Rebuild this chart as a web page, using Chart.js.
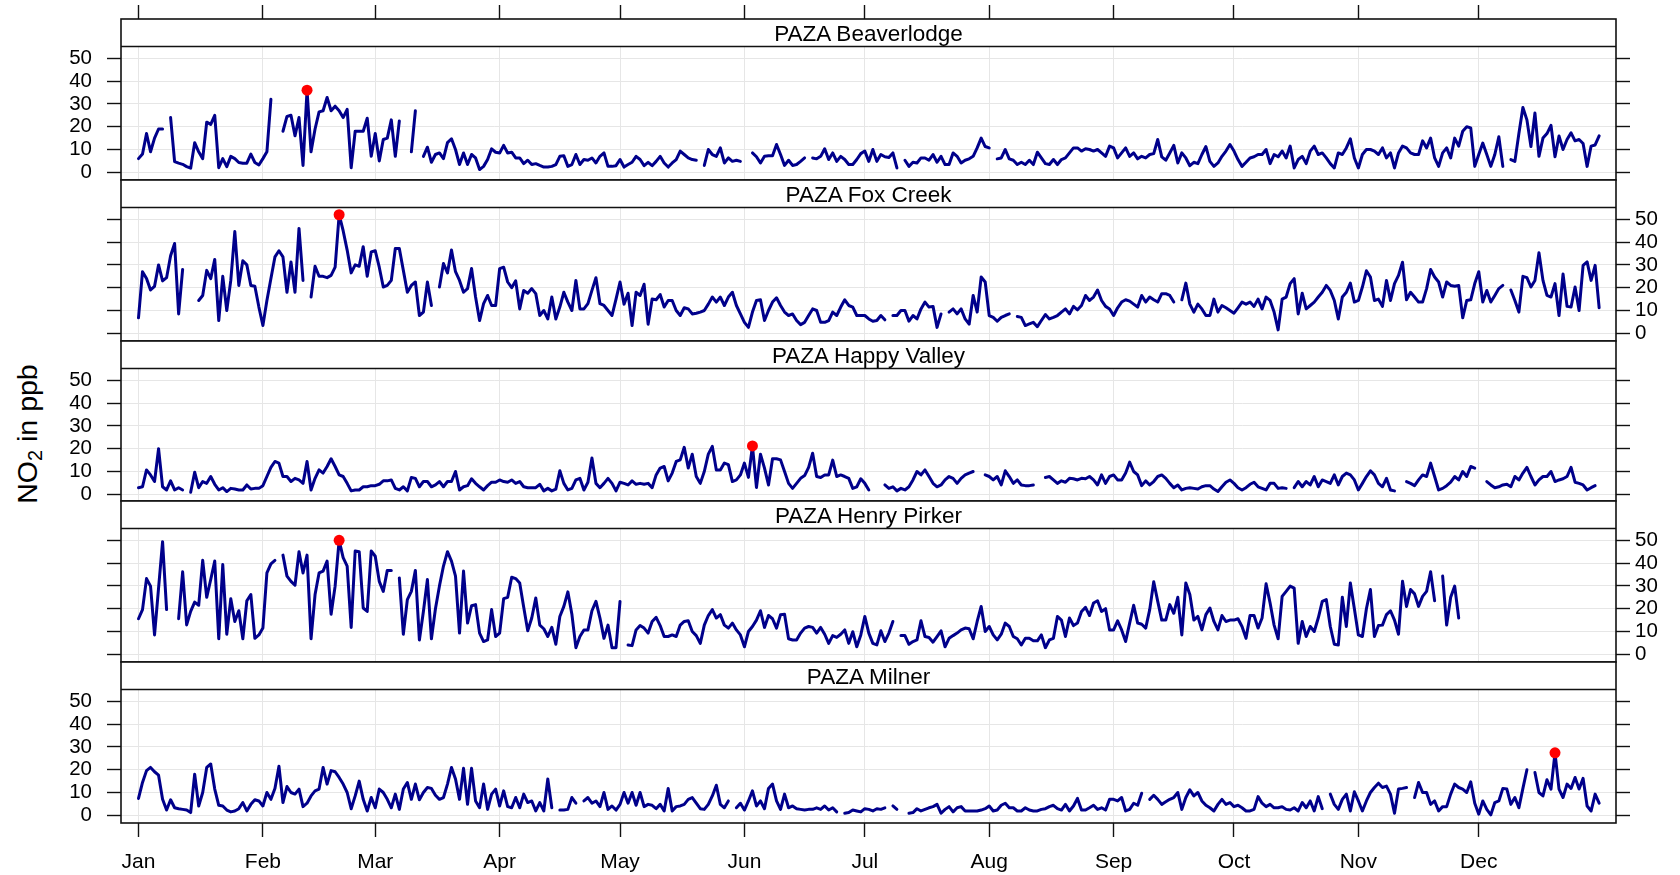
<!DOCTYPE html>
<html><head><meta charset="utf-8">
<script src="https://cdn.jsdelivr.net/npm/chart.js@4.4.1/dist/chart.umd.min.js"></script>
<style>
html,body{margin:0;padding:0;background:#fff;}
#wrap{position:relative;width:1680px;height:875px;overflow:hidden;font-family:"Liberation Sans",Arial,sans-serif;background:#fff;}
#wrap canvas{position:absolute;left:0;}
.strip{position:absolute;left:121px;width:1495px;height:27px;line-height:27px;text-align:center;font-size:22.5px;color:#000;z-index:5;}
#ytitle{position:absolute;left:-123px;top:417px;width:300px;height:34px;line-height:34px;text-align:center;font-size:28.5px;color:#000;transform:rotate(-90deg);white-space:nowrap;}
#ytitle sub{font-size:70%;vertical-align:-0.25em;line-height:0;}
</style></head>
<body><div id="wrap"><div id="ytitle">NO<sub>2</sub> in ppb</div></div>
<script>
// ---- data (daily means, day 0 = Jan 1) ----
const stations = ['PAZA Beaverlodge','PAZA Fox Creek','PAZA Happy Valley','PAZA Henry Pirker','PAZA Milner'];
const monthStarts = [0,31,59,90,120,151,181,212,243,273,304,334];
const monthLabels = ['Jan','Feb','Mar','Apr','May','Jun','Jul','Aug','Sep','Oct','Nov','Dec'];
const yTickValues = [0,10,20,30,40,50];

const beaverlodge = [6,8,17,9,15,19,19,null,24,4.7,
4,3.5,2.5,1.8,13,9,6,22,21,25,
2,6,2.5,7,6,4.3,4,4,8,4.3,
3.2,6,9,32,null,null,18,24.5,25,16,
24,3,36,9,19,26.5,27,32.8,27,29,
27,24,27.6,2,18,18,18,23.7,7,17,
5,14.4,15,23,7,22.5,null,null,9,27,
null,7,11,4.4,7.8,8.5,6,13,14.7,10,
3.4,8.5,3.4,7.8,6.3,1.2,2.6,5.6,10.3,8.8,
8.5,11.8,8.5,8.8,6.3,6.3,3.8,5.3,3.4,3.8,
3,2.3,2.3,2.6,3.4,7,7.3,2.6,3.4,7.8,
3.4,5.6,5.3,6.3,4.1,7,8.5,2.6,2.6,2.9,
5.6,2.3,3.4,4.4,7,5.6,2.9,4.4,2.9,4.8,
7,4.1,2.3,4.1,5.6,9.3,7.8,6.3,5.6,5.3,
null,3,10,7.8,7,10.7,4.1,6.3,4.8,5.3,
4.8,null,null,8.5,6.8,4.1,7,7.3,7.3,12.2,
7.8,3,5.3,3,3.4,4.8,6.3,null,6.3,5.9,
7,10.3,5.6,8.5,4.8,7,5.6,3.4,3.4,5.6,
8.2,9.3,4.8,10,4.8,7.8,6.8,6.5,8.5,1.9,
null,5.3,2.6,4.4,4.1,6.3,6.3,5.3,7.8,4.4,
7,3.4,3.4,8.5,7,4.1,5.3,5.9,7,10.7,
15,11.3,10.7,null,5.9,6.3,10,5.9,5.3,3.4,
4.4,3.4,5.3,3.4,8.8,6.3,3.8,3.4,5.6,3.4,
5.6,6.3,8.5,10.7,10.7,9.3,10.3,10,9.3,10,
8.5,7,11.5,10.7,6.3,8.5,10.7,7,8.5,5.9,
7,6.3,7.8,8.2,14.4,6.8,5.3,8.5,11.8,4.1,
8.5,6.3,2.9,4.4,3.8,7.8,11.3,4.8,2.6,4.1,
7,9.3,12.2,9.3,5.6,2.6,4.4,6.3,6.8,7.8,
7.8,10,3.8,7.8,6.8,9.3,6.3,11.5,1.9,5.6,
7,3.8,9.3,11.5,7.8,8.5,6.3,3.8,1.9,8.5,
7.8,10.7,14.7,6.3,1.9,7.8,10,10,9.3,7.8,
10.7,6.3,8.5,1.9,8.5,11.5,10.7,8.5,7.8,7.8,
13.8,10.7,15,6.3,2.6,8.5,10.7,6.3,15,11.5,
18,20,19.5,2.6,7.8,12.8,7.8,2.6,7.8,15.6,
2.6,null,5.6,4.8,17,28.4,23,11.3,26,7,
15,17,20.6,6.8,15.9,10,14.4,17.3,13.8,14.4,
12.6,2.6,11.5,12,16];

const foxCreek = [6.8,27,24,19,20.6,30,23,24.4,34,39.4,
8.5,28,null,null,null,14.4,16.6,27.6,24,32.4,
5.6,25,10,23.2,44.6,21,31.8,30,21,20.6,
11.5,3.4,14.4,24,33.5,36.2,33.5,18,31.3,18,
46,23.2,null,15.9,29.4,25,25,24.4,25.4,29,
52,45,36.5,26.5,30,29.4,38,25,35.7,36.2,
29,20.3,21,23.2,37.2,37.2,27.6,18,21,22.5,
7.8,9.3,22.5,12.2,null,20.3,30.6,26.5,36.5,27,
23.2,18,19.6,28.4,15.9,5.6,13,16.6,12.2,12.2,
28.4,29,22.5,20,23,10.7,18.8,17.6,19.6,17.4,
7.8,10,6.3,15.9,6.3,11.5,18,13.7,10,23.2,
10.7,10.7,13,18.8,24.4,13,12.2,10,7.8,15,
22.5,12.8,17.6,3.4,18,16.6,21.5,4,15,14.7,
17,11.5,14.4,14.4,10,7.8,11.2,10.7,8.5,8.8,
9.3,10,12.8,15.9,13.7,15.9,12.2,15.9,18,12.2,
8.5,4.8,2.6,9.3,14.4,14.7,5.6,10,13.7,15.6,
12.2,9.3,7.8,8.5,5.6,3.8,4.8,7.8,10.7,10,
4.8,4.8,5.6,9.3,7.8,11.5,14.7,12.2,11.5,7.8,
7.8,7.8,6.3,5.3,5.6,7.8,5.9,null,7.8,7.8,
10,10,5.3,7.8,6.3,10.7,13.7,11.5,11.8,2.6,
8.5,null,9.3,10.7,8.5,10.7,6.3,4,16.6,9.3,
24.7,22.5,7.8,7,5.3,7,7.8,8.5,null,7.4,
7,3.4,4.1,4.8,2.9,5.6,8.2,6.3,7,7.8,
9.3,10.7,8.5,11.8,10.3,12.2,16.6,14.4,15.9,19,
14.4,11.8,10.7,7.8,11.2,13.7,14.7,14.1,12.8,11.5,
16.6,13.7,15.9,14.7,13.7,17.4,17.4,16.6,13.7,null,
14.7,22,12.8,9.3,12.8,10.7,7.8,7.8,15,9.3,
12.2,11.2,10,8.8,11.2,13.7,12.8,13.7,11.8,15,
10.7,15.9,14.4,9.3,1.5,15,15.9,21.8,24,8.5,
17.6,10.7,12.2,13.7,15.9,18,21,18.8,14.4,6.3,
15.9,18,22,13.7,14.4,20.3,27.4,24.7,14.4,15,
11.8,23.2,14.4,21.8,25.4,31.2,14.7,18,15.9,13.7,
13.7,19.6,28,24.7,22.5,15.9,22.5,21,20.6,21,
6.8,14.4,14.7,21.8,27,13.7,18.8,13.7,16.6,19.6,
21,null,19,14.4,9.3,25,24.4,20.3,23.2,35.3,
23.2,16.6,15.9,21.8,7.8,26,11.8,11.5,20.3,10,
29.8,31.3,23.2,29.8,11.2];

const happyValley = [2.9,3.3,10.7,8.5,5.6,20,3.3,1.9,5.9,1.9,
2.9,1.9,null,0.9,9.7,2.9,5.6,4.8,7.8,4.4,
1.9,2.9,1.2,2.6,2.3,1.9,1.9,4.1,2.3,2.6,
2.6,3.8,7.8,11.8,14.4,13.7,7.8,7.8,5.6,7,
6.3,4.8,14.4,1.9,7,10.7,9.3,12.2,15.6,12.2,
8.5,7.8,4.8,1.5,1.9,1.9,3.3,3.3,3.8,3.8,
4.4,5.9,5.9,6.3,2.6,1.9,3.3,1.5,7.4,7,
3.3,5.6,5.6,3.3,4.1,5.6,3.3,5.6,5.6,10,
1.9,3.3,3.8,6.8,4.8,3.3,1.9,3.8,5.3,5.3,
6.3,5.6,5.3,6.3,4.8,5.6,3.3,2.9,2.9,2.9,
4.4,1.5,2.6,1.5,2.3,10.3,4.8,1.9,2.6,6.3,
7,1.9,5.3,15.9,4.8,2.9,4.8,7,4.8,1.5,
5.3,4.8,4.1,5.9,4.4,4.8,4.4,4.8,2.9,8.5,
11.5,12.2,5.9,9.3,14.4,15.1,20.6,11.5,17.6,7.8,
4.8,10,17.6,21,10.7,10.7,13.7,13,5.6,6.3,
8.5,13.7,7.4,21.2,3,17.6,11.5,4.1,15.6,15.6,
15.1,10,4.8,2.6,4.8,7,8.2,11.8,18,7.8,
7.4,8.5,8.5,15,7.8,8.5,7.8,7,2.6,3.3,
6.8,4.8,1.9,null,null,null,4.1,2.6,3.3,1.5,
2.6,1.9,3.3,6.3,10,8.5,10.7,7.8,4.8,3.3,
4.1,6.3,7.8,7,4.8,7,8.5,9.3,10,null,
null,8.5,7.8,6.3,7.8,4.1,10.3,7.8,4.8,6.3,
4.1,3.8,3.8,4.1,null,null,7.4,7.8,6.3,4.8,
5.9,5.3,7,6.8,6.3,7,6.8,7.8,6.3,4.1,
8.5,4.8,7.8,8.5,6.3,6.3,9.3,14.1,10,8.5,
3.8,5.9,4.1,5.6,7.8,8.5,7,4.8,2.9,4.1,
1.9,2.6,2.9,2.6,2.3,3.3,3.8,3.8,2.3,1.2,
3.3,5.3,6.3,4.8,2.9,1.9,2.9,4.4,5.3,3.3,
2.6,1.9,4.8,4.8,2.6,2.9,2.6,null,2.9,5.6,
3.3,5.6,4.1,7.8,3.3,6.3,5.6,4.8,8.5,4.1,
7.8,9.3,8.5,6.3,1.9,4.8,7.8,10.3,8.5,4.8,
3.3,7,1.9,1.5,null,null,5.6,4.8,3.8,6.3,
8.5,7.8,13.7,7.8,1.9,2.6,3.8,5.3,7.8,6.3,
10,7.8,12.2,11.5,null,null,5.6,4.1,2.9,3.3,
4.1,4.4,3.3,7.8,6.3,9.3,11.8,7.8,4.1,6.3,
7.8,7.8,10,5.6,6.3,6.8,7.8,11.8,5.3,4.8,
4.1,1.9,2.9,3.8,null];

const henryPirker = [15.6,19.6,33.2,29.9,8.5,29,49.4,19.6,null,null,
15.6,36.2,12.9,18.8,22.9,21.5,41.2,25,32.8,40.9,
6.8,39.4,8.8,24.4,14.4,19.1,6.8,23.5,26.2,7,
8.5,11.5,35.7,39.7,41.2,null,43.5,34.3,32,30.3,
45,35.7,43.5,6.8,26.2,35.7,36.5,40.9,17.6,29.9,
50,42.4,38.7,11.8,45.3,45,20.3,18.8,45.3,43,
32,27.6,36.8,36.8,null,33.5,8.8,24,27.6,36.8,
6.3,18.8,32.8,6.8,20,30,38.7,45,40.9,34.3,
9.3,36.5,13.7,21.3,21.8,9.3,5.6,6.3,19.6,7.8,
9.3,24.4,25,33.8,33.2,31.3,20.6,10.3,15.9,24.7,
12.8,11.2,7.8,11.8,4.4,16.6,21,27.4,17.6,2.9,
7.8,10.7,10.7,19.1,23.2,15.9,7,12.8,2.9,2.9,
23.2,null,4.1,3.8,10.7,12.6,11.5,9.3,14.4,16.2,
12.6,7.8,7.8,8.5,7.8,12.8,14.4,14.7,10,8.2,
4.8,12.8,17,19.6,15.9,17.4,12.8,11.5,13.7,10.7,
8.5,3.3,10,12.2,15,19.1,11.8,17,15.6,11.5,
17.4,17.6,6.8,6.3,6.3,9.3,11.5,12.2,11.8,9.3,
11.8,8.8,4.8,8.2,7.4,8.8,10.7,4.8,9.9,3.3,
8.5,16.6,9.3,4.8,4.1,10.3,5.6,9.3,14.4,null,
8.2,8.2,4.4,5.6,6.3,14.7,7.8,7.4,5.3,7.8,
10.3,3.3,7,8.2,9.3,10.7,11.5,11.2,6.8,14.4,
21,10,12.2,8.5,6.3,8.8,13.7,12.2,7.8,6.8,
4.1,7,7,5.9,5.9,8.5,2.9,6.3,7,16.6,
15,7.8,15.9,12.6,13.7,18.8,20.6,17,22.5,23.5,
18.8,20,10.7,10.7,14.7,10.7,5.6,13.7,21.5,13.7,
13.2,11.5,19.6,31.8,23.2,15,15,21.8,18,25,
8.5,31.3,26.2,15,16.6,10.7,17.4,20.3,14.4,10.7,
17,14.4,15,15,15.6,12.2,7,17,17,11.5,
15.9,30.9,22.5,12.8,6.8,25.4,27.6,29.9,29,4.8,
14.4,7.8,12.2,10,15.9,23.2,24,12.2,4.4,4.1,
25,12.2,31.3,20,8.5,7.8,20,28.4,7.8,12.6,
12.8,17.4,19.1,15,8.8,32,21,28.4,26.5,21,
25.4,27.6,36.2,23.5,null,34.3,12.8,25,29.9,15.9];

const milner = [7.4,14.4,19.6,21,19.1,17.6,7,2.3,6.8,3.3,
2.9,2.6,2.3,1.2,18,4.1,10,21,22.5,11.5,
4.4,4.1,2.3,1.5,1.9,2.9,5.6,1.9,4.8,6.8,
6.3,4.1,10,7,11.8,21.5,5.6,12.6,10,9.3,
11.5,3.8,5.3,8.5,10.7,11.5,21,13.7,19.6,19.1,
16.6,13.7,10,2.9,8.5,15,7,1.9,7.8,3.3,
11.5,10,7,3.3,9.3,2.6,11.5,14.4,7,13.7,
6.8,10,12.2,11.8,8.8,7,7.8,13.7,21,15.9,
7,20.6,4.8,20.6,6.3,3.3,13.7,2.6,9.3,11.5,
4.1,10.7,3.8,3.3,7.8,3.3,9.3,5.6,6.3,1.9,
5.6,1.9,15.9,3.3,null,2.3,2.3,2.6,7.8,5.3,
null,6.3,7.8,5.3,6.3,3.8,10,2.6,4.1,2.3,
4.8,10,5.3,10,4.4,10,3.8,4.8,4.4,2.9,
4.8,1.9,11.8,1.9,3.8,4.1,4.8,7,7.8,5.3,
2.9,2.6,4.8,8.5,13.2,4.8,3.3,6.3,null,3.3,
5.3,2.3,6.3,10.7,4.1,6.3,2.9,11.8,13.7,6.3,
2.6,9.3,3.3,4.1,2.9,2.6,2.3,2.6,2.6,3.3,
2.6,4.1,2.3,3.3,1.5,null,0.9,1.2,2.3,1.9,
1.5,2.9,2.6,1.9,2.9,2.6,3.3,null,4.1,2.6,
null,null,0.9,1.2,2.9,1.9,2.6,3.3,3.8,4.8,
0.9,2.6,3.8,1.5,3.3,3.8,1.9,1.9,1.9,1.9,
2.3,2.9,4.1,1.9,2.3,4.4,5.3,3.3,3.3,1.9,
1.9,3.3,2.3,1.9,1.9,2.6,2.9,3.8,4.4,2.9,
2.3,4.8,1.9,4.1,7.4,2.3,2.3,3.3,4.4,2.6,
3.3,2.3,7,7,6.3,7.8,1.9,2.6,5.3,4.4,
9.7,null,7,8.8,7,4.8,5.9,7,7.8,10,
2.6,7.8,11.2,8.5,10,6.3,4.4,3.3,1.9,4.8,
7,4.8,5.6,3.8,4.4,3.3,1.9,1.9,2.6,8.2,
5.3,3.8,4.8,3.3,3.3,3.8,2.6,2.3,3.3,1.9,
5.6,3.3,6.3,1.9,8.2,2.9,null,9.3,4.8,2.6,
7,9.3,1.9,10.3,6.3,1.9,6.3,10,12.2,14.1,
12.2,12.8,9.3,0.9,11.5,11.8,12.2,null,7.8,14.4,
10,10,4.8,6.3,1.9,3.8,3.8,9.3,13.7,12.2,
11.5,10,14.7,5.3,0.5,6.3,2.6,0.2,5.6,6.3,
11.8,11.5,4.8,7.8,3.3,11.8,20,null,18.8,10,
8.5,15.6,11.5,27.4,11.5,7.8,13.7,11.8,16.6,11.5,
16.2,4.1,1.9,9.3,5.3];

const seriesList = [beaverlodge, foxCreek, happyValley, henryPirker, milner];

// ---- layout ----
Chart.defaults.font.family = '"Liberation Sans", Arial, sans-serif';
Chart.defaults.color = '#000';
const wrap = document.getElementById('wrap');
const panelTops = [19, 180, 341, 501, 662];
const panelH = [161, 161, 160, 161, 161];
const STRIP = 27.5;
const PX_PER_UNIT = 2.28;
const ZERO_OFF = 153.3;
const X_MIN = -4.36, X_MAX = 368.2;
const LINE = '#00008B';
const GRID = '#e6e6e6';

const deco = {
  id: 'deco',
  beforeDatasetsDraw(chart) {
    const {ctx, chartArea: a} = chart;
    ctx.save(); ctx.fillStyle = '#fff';
    ctx.fillRect(a.left, a.top, a.right - a.left, STRIP);
    ctx.restore();
  },
  afterDraw(chart) {
    const {ctx, chartArea: a} = chart;
    ctx.save(); ctx.strokeStyle = '#111'; ctx.lineWidth = 1.6;
    ctx.strokeRect(a.left, a.top, a.right - a.left, a.bottom - a.top);
    ctx.beginPath(); ctx.moveTo(a.left, a.top + STRIP); ctx.lineTo(a.right, a.top + STRIP); ctx.stroke();
    ctx.restore();
  }
};

seriesList.forEach((arr, i) => {
  const H = panelH[i];
  const padTop = i === 0 ? 19 : 6;
  const padBot = i === 4 ? 875 - (panelTops[4] + H) : 6;
  const cv = document.createElement('canvas');
  cv.width = 1680; cv.height = padTop + H + padBot;
  cv.style.top = (panelTops[i] - padTop) + 'px';
  wrap.appendChild(cv);

  const strip = document.createElement('div');
  strip.className = 'strip';
  strip.style.top = (panelTops[i] + 0.5) + 'px';
  strip.textContent = stations[i];
  wrap.appendChild(strip);

  let maxIdx = -1, maxVal = -Infinity;
  arr.forEach((v, d) => { if (v !== null && v > maxVal) { maxVal = v; maxIdx = d; } });

  const yMax = ZERO_OFF / PX_PER_UNIT;
  const yMin = -(H - ZERO_OFF) / PX_PER_UNIT;
  const setYTicks = s => { s.ticks = yTickValues.map(v => ({value: v})); };
  const labelLeft = i % 2 === 0;

  new Chart(cv, {
    type: 'line',
    data: {datasets: [{
      data: arr.map((v, d) => ({x: d, y: v})),
      borderColor: LINE, borderWidth: 3, tension: 0, spanGaps: false,
      borderJoinStyle: 'round', borderCapStyle: 'round',
      pointRadius: c => c.dataIndex === maxIdx ? 5.5 : 0,
      pointHoverRadius: 0,
      pointBackgroundColor: '#ff0000', pointBorderWidth: 0
    }]},
    options: {
      responsive: false, animation: false, events: [],
      layout: {padding: {top: i === 0 ? 0 : padTop, bottom: i === 4 ? 0 : padBot, left: 0, right: 0}},
      plugins: {legend: {display: false}, tooltip: {enabled: false}},
      scales: {
        x: {
          type: 'linear', position: i === 0 ? 'top' : 'bottom', min: X_MIN, max: X_MAX,
          afterBuildTicks: s => { s.ticks = monthStarts.map(v => ({value: v})); },
          afterFit: s => { s.height = i === 0 ? 19 : (i === 4 ? padBot : 0); s.paddingLeft = 0; s.paddingRight = 0; },
          grid: {color: GRID, lineWidth: 1, drawTicks: i === 0 || i === 4, tickLength: 14, tickColor: '#111', tickWidth: 1.4},
          border: {display: false},
          ticks: {display: i === 4, autoSkip: false, maxRotation: 0, padding: 13,
                  font: {size: 21}, color: '#000',
                  callback: v => monthLabels[monthStarts.indexOf(v)]}
        },
        y: {
          position: 'left', min: yMin, max: yMax,
          afterBuildTicks: setYTicks,
          afterFit: s => { s.width = 121; s.paddingTop = 0; s.paddingBottom = 0; },
          grid: {color: GRID, lineWidth: 1, drawTicks: true, tickLength: 14, tickColor: '#111', tickWidth: 1.4},
          border: {display: false},
          ticks: {display: labelLeft, padding: 15, font: {size: 20.5}, color: '#000'}
        },
        y2: {
          position: 'right', min: yMin, max: yMax,
          afterBuildTicks: setYTicks,
          afterFit: s => { s.width = 64; s.paddingTop = 0; s.paddingBottom = 0; },
          grid: {drawOnChartArea: false, drawTicks: true, tickLength: 14, tickColor: '#111', tickWidth: 1.4},
          border: {display: false},
          ticks: {display: !labelLeft, padding: 5, font: {size: 20.5}, color: '#000'}
        }
      }
    },
    plugins: [deco]
  });
});
</script>
</body></html>
